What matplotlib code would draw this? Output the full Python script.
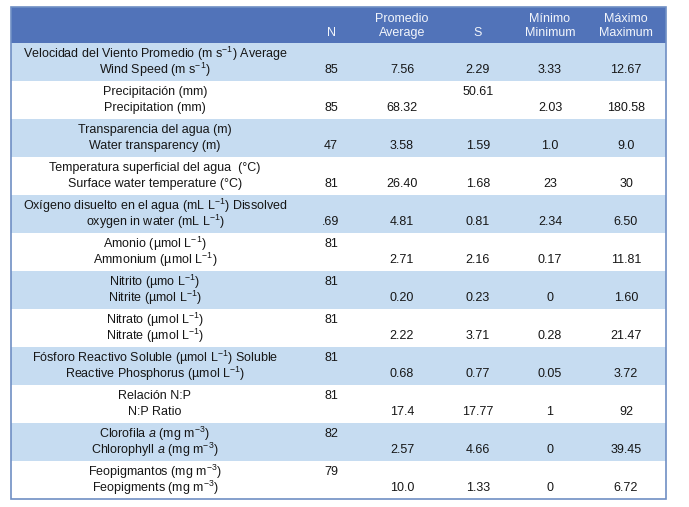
import matplotlib.pyplot as plt
from matplotlib.patches import Rectangle

# Liberation Sans tiene las mismas proporciones que Arial
family = 'Liberation Sans'
fs = 9.0
plt.rcParams['font.family'] = [family, 'DejaVu Sans']
plt.rcParams['mathtext.fontset'] = 'custom'
plt.rcParams['mathtext.rm'] = family
plt.rcParams['mathtext.it'] = family + ':italic'

# Encabezados de columnas
headers = ["N", "Promedio\nAverage", "S", "Mínimo\nMinimum", "Máximo\nMaximum"]

# Etiquetas (linea de arriba / linea de abajo)
labels_top = [
    r"Velocidad del Viento Promedio (m s$^{\mathregular{-1}}$) Average",
    "Precipitación (mm)",
    "Transparencia del agua (m)",
    "Temperatura superficial del agua  (°C)",
    r"Oxígeno disuelto en el agua (mL L$^{\mathregular{-1}}$) Dissolved",
    r"Amonio (µmol L$^{\mathregular{-1}}$)",
    r"Nitrito (µmo L$^{\mathregular{-1}}$)",
    r"Nitrato (µmol L$^{\mathregular{-1}}$)",
    r"Fósforo Reactivo Soluble (µmol L$^{\mathregular{-1}}$) Soluble",
    "Relación N:P",
    r"Clorofila $a$ (mg m$^{\mathregular{-3}}$)",
    r"Feopigmantos (mg m$^{\mathregular{-3}}$)",
]
labels_bottom = [
    r"Wind Speed (m s$^{\mathregular{-1}}$)",
    "Precipitation (mm)",
    "Water transparency (m)",
    "Surface water temperature (°C)",
    r"oxygen in water (mL L$^{\mathregular{-1}}$)",
    r"Ammonium (µmol L$^{\mathregular{-1}}$)",
    r"Nitrite (µmol L$^{\mathregular{-1}}$)",
    r"Nitrate (µmol L$^{\mathregular{-1}}$)",
    r"Reactive Phosphorus (µmol L$^{\mathregular{-1}}$)",
    "N:P Ratio",
    r"Chlorophyll $a$ (mg m$^{\mathregular{-3}}$)",
    r"Feopigments (mg m$^{\mathregular{-3}}$)",
]

# Valores (como texto para conservar el formato)
n_vals = ["85", "85", "47", "81", ".69", "81", "81", "81", "81", "81", "82", "79"]
avg_vals = ["7.56", "68.32", "3.58", "26.40", "4.81", "2.71", "0.20", "2.22", "0.68", "17.4", "2.57", "10.0"]
s_vals = ["2.29", "50.61", "1.59", "1.68", "0.81", "2.16", "0.23", "3.71", "0.77", "17.77", "4.66", "1.33"]
min_vals = ["3.33", "2.03", "1.0", "23", "2.34", "0.17", "0", "0.28", "0.05", "1", "0", "0"]
max_vals = ["12.67", "180.58", "9.0", "30", "6.50", "11.81", "1.60", "21.47", "3.72", "92", "39.45", "6.72"]

# Celdas escritas en la linea de arriba: (fila, columna)
upper_cells = {(1, 2)} | {(r, 0) for r in range(5, 12)}

W, H = 689, 507
fig = plt.figure(figsize=(W / 100, H / 100), dpi=100)
ax = fig.add_axes([0, 0, 1, 1])
ax.set_xlim(0, W)
ax.set_ylim(H, 0)
ax.axis('off')

left, right = 11, 666
top, head_h = 7, 36
row_h = 38
label_x = 155
col_x = [331, 402, 478, 550, 626]
header_color = '#5173b9'
band_color = '#c6dcf1'
txt_color = '#161616'
head_txt = '#f2f5fb'

# encabezado
ax.add_patch(Rectangle((left, top), right - left, head_h, color=header_color, lw=0))
for x, h in zip(col_x, headers):
    lines = h.split("\n")
    if len(lines) == 1:
        ax.text(x, top + 26, h, ha='center', va='center', color=head_txt, fontsize=fs)
    else:
        ax.text(x, top + 12, lines[0], ha='center', va='center', color=head_txt, fontsize=fs)
        ax.text(x, top + 26, lines[1], ha='center', va='center', color=head_txt, fontsize=fs)

columns = [n_vals, avg_vals, s_vals, min_vals, max_vals]
y0 = top + head_h
for i in range(len(labels_top)):
    yt = y0 + i * row_h
    if i % 2 == 0:
        ax.add_patch(Rectangle((left, yt), right - left, row_h, color=band_color, lw=0))
    y1 = yt + 11
    y2 = yt + 27
    ax.text(label_x, y1, labels_top[i], ha='center', va='center', color=txt_color, fontsize=fs)
    ax.text(label_x, y2, labels_bottom[i], ha='center', va='center', color=txt_color, fontsize=fs)
    for j, col in enumerate(columns):
        yy = y1 if (i, j) in upper_cells else y2
        ax.text(col_x[j], yy, col[i], ha='center', va='center', color=txt_color, fontsize=fs)

bottom = y0 + len(labels_top) * row_h
ax.add_patch(Rectangle((left, top), right - left, bottom - top, fill=False,
                       edgecolor='#6f8fc4', lw=1.2))

fig.savefig('out.png', dpi=100)
